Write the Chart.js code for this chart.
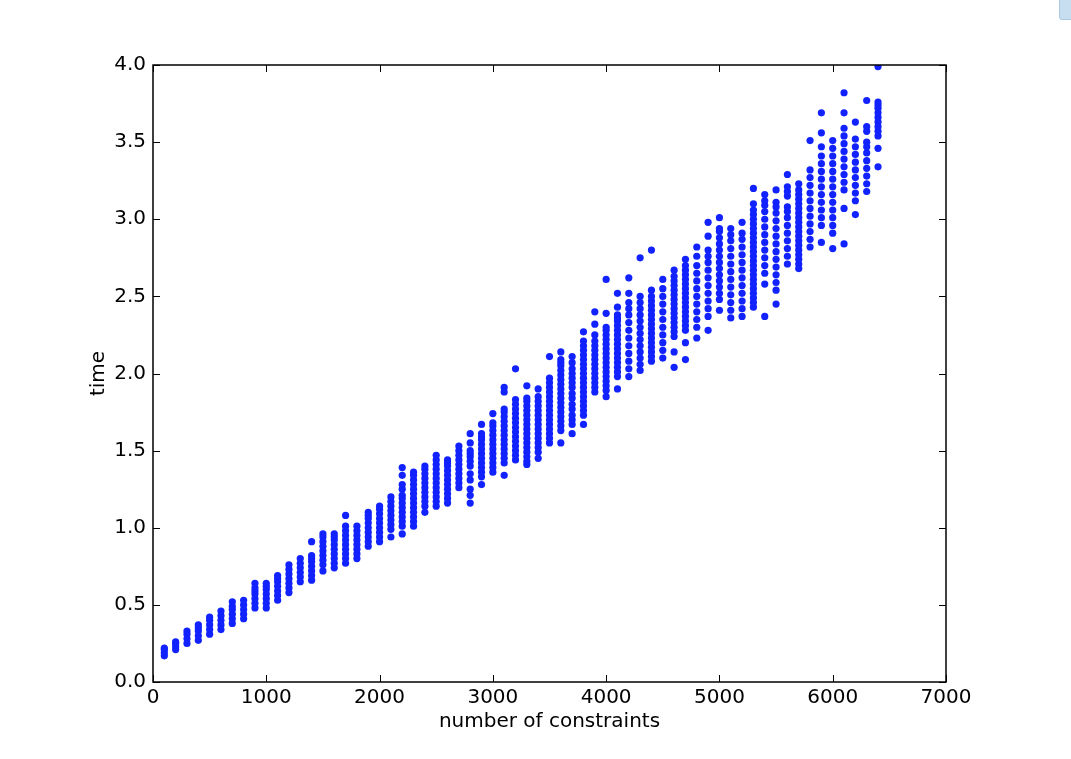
<!DOCTYPE html>
<html>
<head>
<meta charset="utf-8">
<script src="https://cdn.jsdelivr.net/npm/chart.js@4"></script>
<style>
  body { margin: 0; background: #fff; }
  #wrap { position: relative; width: 1071px; height: 759px; }
  #corner { position: absolute; left: 1059px; top: -4px; width: 16px; height: 22px;
            background: #c6def0; border: 1px solid #a9c8e2; border-radius: 3px; }
</style>
</head>
<body>
<div id="wrap">
  <canvas id="myChart"></canvas>
  <div id="corner"></div>
</div>
<script>
// number of constraints for each column of runs
var constraints = [100, 200, 300, 400, 500, 600, 700, 800, 900, 1000,
  1100, 1200, 1300, 1400, 1500, 1600, 1700, 1800, 1900, 2000,
  2100, 2200, 2300, 2400, 2500, 2600, 2700, 2800, 2900, 3000,
  3100, 3200, 3300, 3400, 3500, 3600, 3700, 3800, 3900, 4000,
  4100, 4200, 4300, 4400, 4500, 4600, 4700, 4800, 4900, 5000,
  5100, 5200, 5300, 5400, 5500, 5600, 5700, 5800, 5900, 6000,
  6100, 6200, 6300, 6400];

var times = [
  [0.17, 0.19, 0.21, 0.22],
  [0.21, 0.23, 0.25, 0.26],
  [0.25, 0.28, 0.31, 0.33],
  [0.27, 0.30, 0.33, 0.35, 0.37],
  [0.31, 0.34, 0.37, 0.40, 0.42],
  [0.34, 0.37, 0.40, 0.43, 0.46],
  [0.38, 0.41, 0.44, 0.47, 0.49, 0.52],
  [0.41, 0.44, 0.47, 0.50, 0.53],
  [0.48, 0.51, 0.54, 0.57, 0.59, 0.61, 0.64],
  [0.48, 0.51, 0.54, 0.57, 0.60, 0.62, 0.64],
  [0.53, 0.56, 0.59, 0.62, 0.65, 0.67, 0.69],
  [0.58, 0.61, 0.64, 0.67, 0.70, 0.73, 0.76],
  [0.65, 0.68, 0.71, 0.74, 0.77, 0.80],
  [0.66, 0.69, 0.72, 0.75, 0.78, 0.80, 0.82, 0.91],
  [0.72, 0.76, 0.79, 0.82, 0.85, 0.88, 0.91, 0.94, 0.96],
  [0.74, 0.77, 0.80, 0.83, 0.86, 0.89, 0.92, 0.94, 0.96],
  [0.77, 0.80, 0.83, 0.86, 0.89, 0.92, 0.95, 0.98, 1.01, 1.08],
  [0.80, 0.83, 0.86, 0.89, 0.92, 0.95, 0.98, 1.01],
  [0.88, 0.91, 0.94, 0.97, 1.00, 1.03, 1.06, 1.08, 1.10],
  [0.91, 0.94, 0.97, 1.00, 1.03, 1.06, 1.09, 1.12, 1.14],
  [0.94, 0.99, 1.02, 1.05, 1.08, 1.11, 1.14, 1.17, 1.20],
  [0.96, 1.01, 1.04, 1.07, 1.10, 1.13, 1.16, 1.19, 1.21, 1.25, 1.28, 1.34, 1.39],
  [1.01, 1.04, 1.07, 1.10, 1.13, 1.16, 1.19, 1.22, 1.25, 1.28, 1.31, 1.34, 1.36],
  [1.10, 1.14, 1.17, 1.20, 1.23, 1.26, 1.29, 1.32, 1.35, 1.38, 1.40],
  [1.14, 1.17, 1.20, 1.23, 1.26, 1.29, 1.32, 1.35, 1.38, 1.41, 1.44, 1.47],
  [1.16, 1.19, 1.22, 1.25, 1.28, 1.31, 1.34, 1.37, 1.40, 1.42, 1.44],
  [1.26, 1.29, 1.32, 1.35, 1.38, 1.41, 1.44, 1.47, 1.50, 1.53],
  [1.16, 1.21, 1.25, 1.31, 1.35, 1.40, 1.43, 1.46, 1.48, 1.50, 1.55, 1.61],
  [1.28, 1.33, 1.36, 1.39, 1.42, 1.45, 1.48, 1.51, 1.54, 1.57, 1.59, 1.61, 1.67],
  [1.36, 1.39, 1.42, 1.45, 1.48, 1.51, 1.54, 1.57, 1.60, 1.63, 1.66, 1.68, 1.74],
  [1.34, 1.42, 1.45, 1.48, 1.51, 1.54, 1.57, 1.60, 1.63, 1.66, 1.69, 1.72, 1.75, 1.77, 1.88, 1.91],
  [1.44, 1.47, 1.50, 1.53, 1.56, 1.59, 1.62, 1.65, 1.68, 1.71, 1.74, 1.77, 1.80, 1.83, 2.03],
  [1.41, 1.43, 1.46, 1.49, 1.52, 1.55, 1.58, 1.61, 1.64, 1.67, 1.70, 1.73, 1.76, 1.79, 1.82, 1.84, 1.92],
  [1.45, 1.49, 1.52, 1.55, 1.58, 1.61, 1.64, 1.67, 1.70, 1.73, 1.76, 1.79, 1.82, 1.85, 1.90],
  [1.55, 1.58, 1.61, 1.64, 1.67, 1.70, 1.73, 1.76, 1.79, 1.82, 1.85, 1.88, 1.91, 1.94, 1.97, 2.11],
  [1.55, 1.63, 1.66, 1.69, 1.72, 1.75, 1.78, 1.81, 1.84, 1.87, 1.90, 1.93, 1.96, 1.99, 2.02, 2.05, 2.07, 2.09, 2.14],
  [1.61, 1.67, 1.70, 1.73, 1.77, 1.80, 1.84, 1.87, 1.91, 1.94, 1.97, 2.00, 2.03, 2.07, 2.11],
  [1.67, 1.73, 1.76, 1.79, 1.82, 1.85, 1.88, 1.91, 1.94, 1.97, 2.00, 2.03, 2.06, 2.09, 2.12, 2.15, 2.18, 2.21, 2.27],
  [1.88, 1.91, 1.94, 1.97, 2.00, 2.03, 2.06, 2.09, 2.12, 2.15, 2.18, 2.21, 2.25, 2.32, 2.40],
  [1.85, 1.89, 1.92, 1.95, 1.98, 2.01, 2.04, 2.07, 2.10, 2.13, 2.16, 2.19, 2.22, 2.25, 2.28, 2.30, 2.39, 2.61],
  [1.90, 1.98, 2.01, 2.04, 2.07, 2.10, 2.13, 2.16, 2.19, 2.22, 2.25, 2.28, 2.31, 2.34, 2.36, 2.38, 2.43, 2.52],
  [1.98, 2.03, 2.08, 2.13, 2.18, 2.23, 2.28, 2.33, 2.38, 2.42, 2.46, 2.52, 2.62],
  [2.02, 2.06, 2.10, 2.14, 2.18, 2.22, 2.26, 2.30, 2.34, 2.38, 2.42, 2.46, 2.50, 2.75],
  [2.08, 2.11, 2.14, 2.17, 2.20, 2.23, 2.26, 2.29, 2.32, 2.35, 2.38, 2.41, 2.44, 2.47, 2.50, 2.54, 2.80],
  [2.10, 2.15, 2.20, 2.25, 2.30, 2.35, 2.40, 2.45, 2.50, 2.55, 2.61],
  [2.04, 2.14, 2.24, 2.27, 2.30, 2.33, 2.36, 2.39, 2.42, 2.45, 2.48, 2.51, 2.54, 2.57, 2.60, 2.63, 2.67],
  [2.09, 2.20, 2.28, 2.31, 2.34, 2.37, 2.40, 2.43, 2.46, 2.49, 2.52, 2.55, 2.58, 2.61, 2.64, 2.67, 2.70, 2.74],
  [2.23, 2.30, 2.35, 2.40, 2.45, 2.50, 2.55, 2.60, 2.65, 2.70, 2.76, 2.82],
  [2.28, 2.37, 2.42, 2.47, 2.52, 2.57, 2.62, 2.67, 2.72, 2.76, 2.80, 2.89, 2.98],
  [2.41, 2.48, 2.52, 2.56, 2.60, 2.64, 2.68, 2.72, 2.76, 2.80, 2.84, 2.88, 2.92, 2.94, 3.01],
  [2.36, 2.41, 2.46, 2.51, 2.56, 2.61, 2.66, 2.71, 2.76, 2.81, 2.86, 2.90, 2.94],
  [2.37, 2.42, 2.47, 2.52, 2.57, 2.62, 2.67, 2.72, 2.77, 2.82, 2.87, 2.91, 2.98],
  [2.43, 2.46, 2.49, 2.52, 2.55, 2.58, 2.61, 2.64, 2.67, 2.70, 2.73, 2.76, 2.79, 2.82, 2.85, 2.88, 2.91, 2.94, 2.97, 3.00, 3.03, 3.06, 3.10, 3.20],
  [2.37, 2.58, 2.65, 2.70, 2.75, 2.80, 2.85, 2.90, 2.95, 3.00, 3.05, 3.09, 3.12, 3.16],
  [2.45, 2.54, 2.59, 2.64, 2.69, 2.74, 2.79, 2.84, 2.89, 2.94, 2.99, 3.04, 3.08, 3.11, 3.19],
  [2.71, 2.76, 2.81, 2.86, 2.91, 2.96, 3.01, 3.05, 3.08, 3.15, 3.18, 3.21, 3.29],
  [2.68, 2.71, 2.74, 2.77, 2.80, 2.83, 2.86, 2.89, 2.92, 2.95, 2.98, 3.01, 3.04, 3.07, 3.10, 3.13, 3.16, 3.19, 3.23],
  [2.82, 2.87, 2.92, 2.97, 3.02, 3.07, 3.12, 3.17, 3.22, 3.27, 3.32, 3.51],
  [2.85, 2.96, 3.01, 3.06, 3.11, 3.16, 3.21, 3.26, 3.31, 3.36, 3.41, 3.47, 3.56, 3.69],
  [2.81, 2.91, 2.96, 3.01, 3.06, 3.11, 3.16, 3.21, 3.26, 3.31, 3.36, 3.41, 3.46, 3.51],
  [2.84, 3.07, 3.19, 3.24, 3.29, 3.34, 3.39, 3.44, 3.49, 3.54, 3.59, 3.69, 3.82],
  [3.03, 3.12, 3.17, 3.22, 3.27, 3.32, 3.37, 3.42, 3.47, 3.52, 3.63],
  [3.18, 3.23, 3.28, 3.33, 3.38, 3.43, 3.47, 3.50, 3.57, 3.60, 3.77],
  [3.34, 3.46, 3.54, 3.57, 3.60, 3.63, 3.66, 3.69, 3.72, 3.74, 3.76, 3.99]
];

var xTicks = [0, 1000, 2000, 3000, 4000, 5000, 6000, 7000];
var yTicks = [0.0, 0.5, 1.0, 1.5, 2.0, 2.5, 3.0, 3.5, 4.0];

var points = [];
constraints.forEach(function(c, i){
  times[i].forEach(function(t){ points.push({x: c, y: t}); });
});

// matplotlib style frame with inward ticks on all four sides
var frameTicks = {
  id: 'frameTicks',
  afterDatasetsDraw: function(chart){
    var ctx = chart.ctx, a = chart.chartArea;
    var xs = chart.scales.x, ys = chart.scales.y;
    var len = 7;
    ctx.save();
    ctx.strokeStyle = '#000';
    ctx.lineWidth = 1;
    ctx.beginPath();
    xTicks.forEach(function(v){
      var px = Math.round(xs.getPixelForValue(v)) + 0.5;
      ctx.moveTo(px, a.bottom); ctx.lineTo(px, a.bottom - len);
      ctx.moveTo(px, a.top); ctx.lineTo(px, a.top + len);
    });
    yTicks.forEach(function(v){
      var py = Math.round(ys.getPixelForValue(v)) + 0.5;
      ctx.moveTo(a.left, py); ctx.lineTo(a.left + len, py);
      ctx.moveTo(a.right, py); ctx.lineTo(a.right - len, py);
    });
    ctx.stroke();
    ctx.lineWidth = 1.5;
    ctx.strokeRect(a.left, a.top, a.right - a.left, a.bottom - a.top);
    ctx.restore();
  }
};

Chart.defaults.font.family = 'DejaVu Sans';
Chart.defaults.font.size = 20;
Chart.defaults.color = '#000';

var ctx = document.getElementById('myChart').getContext('2d');
var chart = new Chart(ctx, {
  type: 'scatter',
  data: {
    datasets: [{
      label: 'time',
      data: points,
      backgroundColor: 'rgb(17,34,255)',
      borderColor: 'rgb(17,34,255)',
      borderWidth: 0,
      pointRadius: 3.6,
      pointHoverRadius: 3.6,
      clip: 0
    }]
  },
  options: {
    responsive: true,
    maintainAspectRatio: false,
    animation: false,
    events: [],
    layout: { padding: { top: 65, right: 125, left: 0, bottom: 0 } },
    plugins: { legend: { display: false }, tooltip: { enabled: false } },
    scales: {
      x: {
        type: 'linear',
        min: 0, max: 7000,
        afterFit: function(s){ s.height = 77; },
        afterBuildTicks: function(s){ s.ticks = xTicks.map(function(v){ return {value: v}; }); },
        grid: { display: false, drawTicks: false },
        border: { display: false },
        ticks: { padding: 4, maxRotation: 0, callback: function(v){ return String(v); } },
        title: { display: true, text: 'number of constraints', padding: { top: 0, bottom: 25 } }
      },
      y: {
        type: 'linear',
        min: 0, max: 4,
        afterFit: function(s){ s.width = 153; },
        afterBuildTicks: function(s){ s.ticks = yTicks.map(function(v){ return {value: v}; }); },
        grid: { display: false, drawTicks: false },
        border: { display: false },
        ticks: { padding: 7, callback: function(v){ return v.toFixed(1); } },
        title: { display: true, text: 'time', padding: { top: 87, bottom: 0 } }
      }
    }
  },
  plugins: [frameTicks]
});
</script>
</body>
</html>
